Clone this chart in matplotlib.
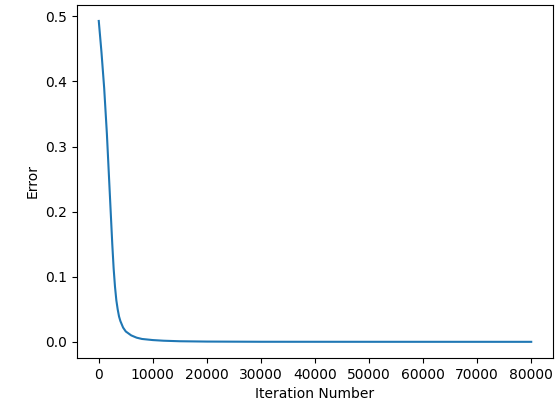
import matplotlib
matplotlib.use('Agg')
import matplotlib.pyplot as plt

# error
iterations = [0, 500, 1000, 1500, 2000, 2500, 2750, 3000, 3250, 3500, 3750, 4000,
              4500, 5000, 6000, 7000, 8000, 10000, 12000, 15000, 20000, 30000,
              50000, 80000]
error = [0.493, 0.445, 0.390, 0.320, 0.235, 0.150, 0.113, 0.085, 0.064, 0.050,
         0.039, 0.032, 0.022, 0.016, 0.010, 0.0065, 0.0045, 0.0028, 0.0018,
         0.0010, 0.0005, 0.0002, 0.00015, 0.0001]

fig = plt.figure(figsize=(5.59, 4.09), dpi=100)
ax = fig.add_subplot(111)
fig.subplots_adjust(left=0.138, right=0.989, top=0.988, bottom=0.125)

ax.plot(iterations, error)
ax.set_xlabel('Iteration Number')
ax.set_ylabel('Error')

plt.savefig('out.png', dpi=100)
